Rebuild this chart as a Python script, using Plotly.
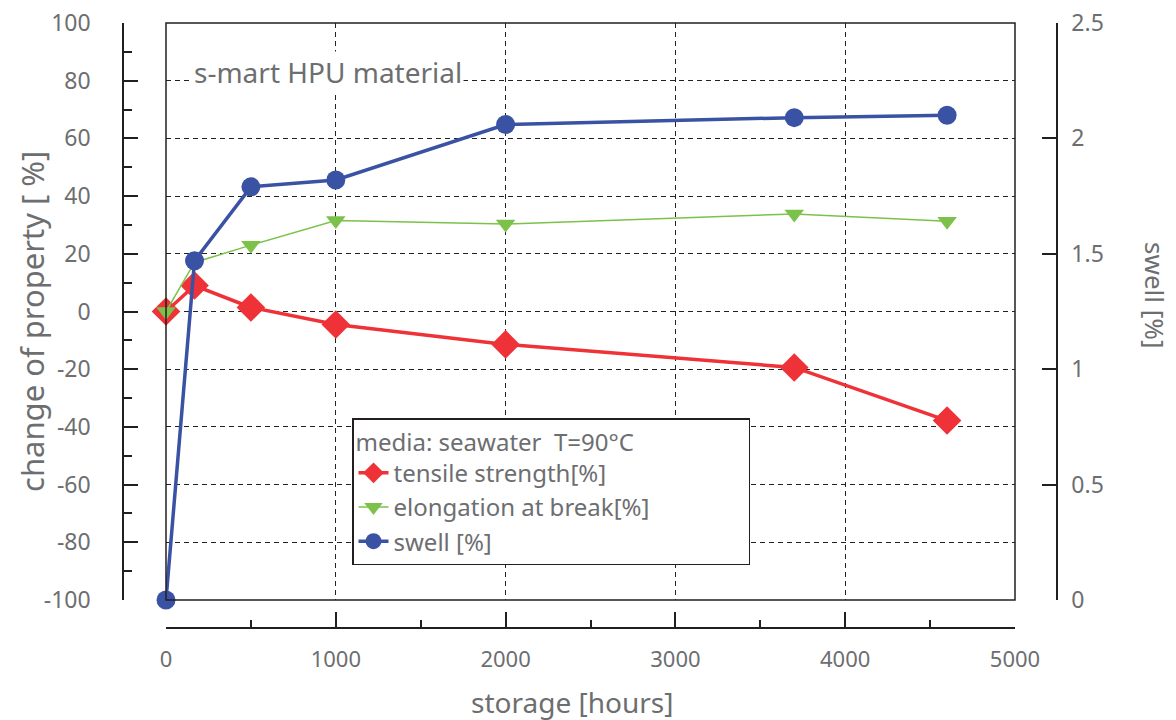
import plotly.graph_objects as go

hours = [0, 168, 500, 1000, 2000, 3700, 4600]
tensile = [0, 9.0, 1.4, -4.5, -11.4, -19.4, -37.8]
elongation = [0, 17.0, 23.0, 31.5, 30.3, 33.8, 31.3]
swell = [0, 1.47, 1.79, 1.82, 2.06, 2.09, 2.10]

left_ticks = [-100, -80, -60, -40, -20, 0, 20, 40, 60, 80, 100]
left_labels = ["-100", "-80", "-60", "-40", "-20", "0", "20", "40", "60", "80", "100"]
right_ticks = [0, 0.5, 1, 1.5, 2, 2.5]
right_labels = ["0", "0.5", "1", "1.5", "2", "2.5"]
x_ticks = [0, 1000, 2000, 3000, 4000, 5000]
x_labels = ["0", "1000", "2000", "3000", "4000", "5000"]

FONT = "Noto Sans"
GREY = "#6d6e70"
RED = "#ee3237"
GREEN = "#7cc24a"
BLUE = "#3a52a3"
INK = "#231f20"

fig = go.Figure()
fig.add_trace(go.Scatter(
    x=hours, y=tensile, name="tensile strength[%]", mode="lines+markers",
    line=dict(color=RED, width=3.5),
    marker=dict(symbol="diamond", size=22, color=RED),
    cliponaxis=False, yaxis="y"))
fig.add_trace(go.Scatter(
    x=hours, y=elongation, name="elongation at break[%]", mode="lines+markers",
    line=dict(color=GREEN, width=1.5),
    marker=dict(symbol="triangle-down", size=17, color=GREEN),
    cliponaxis=False, yaxis="y"))
fig.add_trace(go.Scatter(
    x=hours, y=swell, name="swell [%]", mode="lines+markers",
    line=dict(color=BLUE, width=3.5),
    marker=dict(symbol="circle", size=19, color=BLUE),
    cliponaxis=False, yaxis="y2"))

L, R, T, B = 123, 119, 23, 92
PW = 1176 - L - R
PH = 720 - T - B
xd = [(166 - L) / PW, (1015 - L) / PW]
yd = [(628 - 600) / PH, 1]

tickfont = dict(family=FONT, size=23, color=GREY)
GRIDDASH = "5px,4px"

fig.update_layout(
    width=1176, height=720,
    margin=dict(l=L, r=R, t=T, b=B, pad=0, autoexpand=False),
    paper_bgcolor="white", plot_bgcolor="white",
    font=dict(family=FONT, color=GREY),
    showlegend=True,
    xaxis=dict(
        domain=xd, range=[0, 5000], anchor="free", position=0, automargin=False,
        tickvals=x_ticks, ticktext=x_labels,
        ticks="inside", ticklen=15, tickwidth=1.5, tickcolor=INK,
        showline=True, linecolor=INK, linewidth=1.5,
        showgrid=True, gridcolor="#222222", griddash=GRIDDASH, gridwidth=1,
        zeroline=False, tickfont=dict(family=FONT, size=22, color=GREY), ticklabelstandoff=12,
        minor=dict(dtick=500, ticks="inside", ticklen=7, tickwidth=1.5,
                   tickcolor=INK, showgrid=False),
    ),
    yaxis=dict(
        domain=yd, range=[-100, 100], anchor="free", position=0, automargin=False,
        tickvals=left_ticks, ticktext=left_labels,
        ticks="inside", ticklen=14, tickwidth=1.5, tickcolor=INK,
        showline=True, linecolor=INK, linewidth=1.5,
        showgrid=True, gridcolor="#222222", griddash=GRIDDASH, gridwidth=1,
        zeroline=False, tickfont=tickfont, ticklabelstandoff=27,
        minor=dict(dtick=10, ticks="inside", ticklen=8, tickwidth=1.5,
                   tickcolor=INK, showgrid=False),
    ),
    yaxis2=dict(
        overlaying="y", side="right", range=[0, 2.5], anchor="free", position=1,
        automargin=False,
        tickvals=right_ticks, ticktext=right_labels,
        ticks="inside", ticklen=14, tickwidth=1.5, tickcolor=INK,
        showline=True, linecolor=INK, linewidth=1.5,
        showgrid=False, zeroline=False, tickfont=tickfont, ticklabelstandoff=9,
    ),
    legend=dict(
        x=(352 - L) / PW, y=1 - (418 - T) / PH, xanchor="left", yanchor="top",
        bgcolor="white", bordercolor=INK, borderwidth=1.5,
        font=dict(family=FONT, size=24, color=GREY),
        title=dict(text="media: seawater  T=90°C" + "\u00a0" * 18,
                   font=dict(family=FONT, size=24, color=GREY)),
        tracegroupgap=0, itemsizing="trace",
    ),
    shapes=[dict(type="rect", xref="x domain", yref="y domain", x0=0, x1=1, y0=0, y1=1,
                 line=dict(color=INK, width=1.5), layer="above")],
    annotations=[
        dict(text="s-mart HPU material", xref="paper", yref="paper",
             x=(192 - L) / PW, y=1 - (72 - T) / PH, xanchor="left", yanchor="middle",
             showarrow=False, bgcolor="white", font=dict(family=FONT, size=28, color=GREY)),
        dict(text="storage [hours]", xref="paper", yref="paper",
             x=(572 - L) / PW, y=(628 - 702) / PH, xanchor="center", yanchor="middle",
             showarrow=False, font=dict(family=FONT, size=28, color=GREY)),
        dict(text="change of property [ %]", xref="paper", yref="paper",
             x=(32 - L) / PW, y=1 - (322 - T) / PH, xanchor="center", yanchor="middle",
             textangle=-90, showarrow=False, font=dict(family=FONT, size=31, color=GREY)),
        dict(text="swell [%]", xref="paper", yref="paper",
             x=(1155 - L) / PW, y=1 - (295 - T) / PH, xanchor="center", yanchor="middle",
             textangle=90, showarrow=False, font=dict(family=FONT, size=26, color=GREY)),
    ],
)

fig.write_html("out.html", config={"displayModeBar": False},
               post_script="document.body.style.margin='0px';")
